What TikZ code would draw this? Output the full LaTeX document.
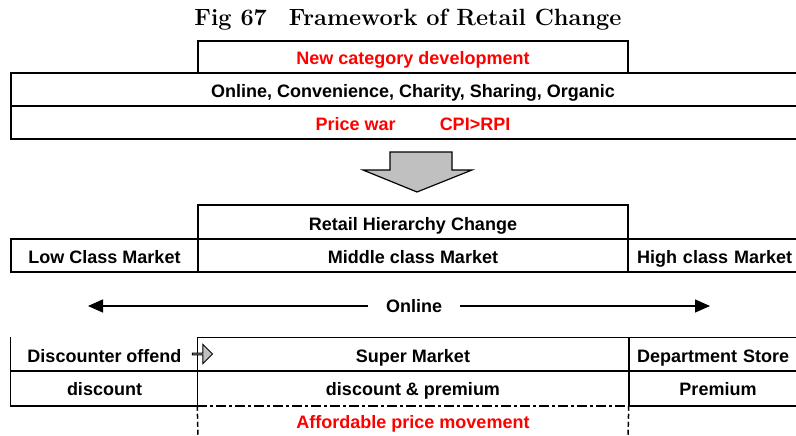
\documentclass[tikz,border=0pt]{standalone}
\usepackage{fontspec}
\setsansfont{Liberation Sans}
\usetikzlibrary{arrows.meta,shapes.arrows}
\definecolor{hotclr}{RGB}{255,0,0}
\definecolor{fillclr}{RGB}{192,192,192}
\tikzset{
  cell/.style={rectangle,draw,line width=1.5pt,minimum height=33pt,inner sep=0pt,
               text height=16pt,text depth=0pt,
               font=\sffamily\bfseries\fontsize{18}{18}\selectfont},
  band/.style={cell,minimum width=804pt},
  midcell/.style={cell,minimum width=430pt},
  sidecell/.style={cell,minimum width=187pt},
  rightcell/.style={sidecell,text width=169pt,inner xsep=9pt,align=left},
  bare/.style={draw=none},
  hot/.style={text=hotclr},
  rule/.style={line width=1.5pt},
  flow/.style={-{Triangle[length=15pt,width=13pt]},line width=1.4pt},
  dashdot/.style={dash pattern=on 10pt off 3pt on 3pt off 3pt},
  cutline/.style={dash pattern=on 5pt off 3pt},
}
\begin{document}
\begin{tikzpicture}[x=1pt,y=-1pt]
\clip (0,0) rectangle (796,436);

% ── title
\node[font=\rmfamily\bfseries\fontsize{23.5}{23.5}\selectfont] (title) at (408,20)
  {Fig 67\hspace{22pt}Framework of Retail Change};

% ── trends
\node[midcell,minimum height=32pt,hot] (newcat) at (413,57) {New category development};
\node[band] (trend) at (413,89.5) {Online, Convenience, Charity, Sharing, Organic};
\node[band,hot] (price) at (413,122.5) {Price war\hspace{44pt}CPI>RPI};

% ── big arrow
\draw[line width=1.2pt,fill=fillclr] (390,152) -- (452,152) -- (452,170) -- (472,170)
  -- (417,192) -- (363,170) -- (390,170) -- cycle;

% ── hierarchy
\node[midcell,minimum height=34pt] (hier) at (413,222) {Retail Hierarchy Change};
\node[sidecell] (low) at (104.5,255.5) {Low Class Market};
\node[midcell] (midm) at (413,255.5) {Middle class Market};
\node[rightcell] (high) at (721.5,255.5) {High class Market};

% ── online
\node[cell,bare,inner xsep=17pt] (onl) at (414,304) {Online};
\coordinate (lowend) at (88,306);
\coordinate (highend) at (710,306);
\draw[flow] (onl.west |- lowend) -- (lowend);
\draw[flow] (onl.east |- highend) -- (highend);

% ── formats
\node[sidecell,bare,minimum height=32pt] (disc) at (104.5,354) {Discounter offend};
\node[midcell,bare,minimum height=32pt] (sup) at (413,354) {Super Market};
\node[rightcell,bare,minimum height=32pt] (dept) at (721.5,354) {Department Store};
\node[sidecell,bare,minimum height=35pt] (dsc) at (104.5,387.5) {discount};
\node[midcell,bare,minimum height=35pt] (mix) at (413,387.5) {discount \& premium};
\node[sidecell,bare,minimum height=35pt] (prem) at (718,387.5) {Premium};
\node[cell,bare,hot] (afford) at (413,420) {Affordable price movement};

\draw[rule] (disc.north west) -- (dsc.south west) -- (dsc.south east);
\draw[rule] (sup.north west) -- (dept.north east);
\draw[rule] (disc.south west) -- (dept.south east);
\draw[rule] (sup.north west) -- (mix.south west);
\draw[rule] (sup.north east) -- (mix.south east);
\draw[rule] (mix.south east) -- (dept.south east |- mix.south east);
\draw[rule,dashdot] (mix.south west) -- (mix.south east);
\coordinate (cutl) at (198,436);
\coordinate (cutr) at (628,436);
\draw[rule,cutline] (mix.south west) -- (cutl);
\draw[rule,cutline] (mix.south east) -- (cutr);

\node[single arrow,draw,fill=fillclr,line width=1pt,minimum height=20pt,minimum width=19pt,
      single arrow head extend=4.5pt,inner sep=0pt] (push) at (202,354) {};

\end{tikzpicture}
\end{document}
